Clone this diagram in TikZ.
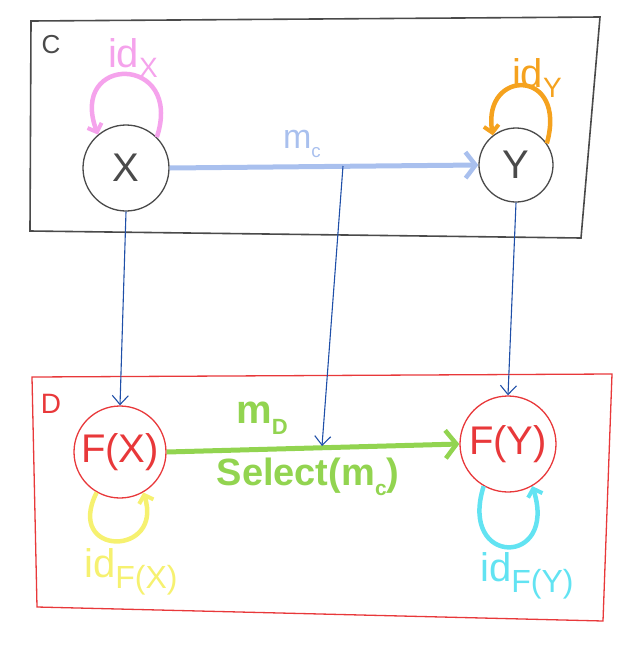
\documentclass[tikz,border=0pt]{standalone}
\usepackage{fontspec}
\setmainfont{Liberation Sans}
\usetikzlibrary{arrows.meta}
\definecolor{penblack}{HTML}{4A4A4A}
\definecolor{penred}{HTML}{E8383A}
\definecolor{penblue}{HTML}{1F4FA8}
\definecolor{lightblue}{HTML}{A9C0EE}
\definecolor{pengreen}{HTML}{92D450}
\definecolor{penpink}{HTML}{F5A3EC}
\definecolor{penorange}{HTML}{F5A21E}
\definecolor{penyellow}{HTML}{F6F170}
\definecolor{pencyan}{HTML}{62E3F2}
\newcommand{\lsub}[2][0.6]{\raisebox{-0.5ex}{\scalebox{#1}{#2}}}
\tikzset{
  cnode/.style={circle, inner sep=0pt, line width=1.3pt, font=\fontsize{40}{42}\selectfont},
  mapline/.style={draw=penblue, line width=1.1pt, -{Straight Barb[length=9pt,width=16pt,line width=1.1pt]}},
  loopline/.style={line width=4.5pt, -{Straight Barb[length=7pt,width=15pt,line width=4pt]}},
  biglbl/.style={font=\fontsize{40}{42}\selectfont, inner sep=0pt},
}
\begin{document}
\begin{tikzpicture}[x=1pt,y=-1pt]
\useasboundingbox (0,0) rectangle (640,654);
% category boxes
\draw[penblack, line width=1.6pt] (31,21) -- (600,17) -- (581,238) -- (30,231) -- cycle;
\draw[penred, line width=1.3pt] (32,377) -- (612,374) -- (603,621) -- (37,607) -- cycle;
\node[text=penblack, font=\fontsize{26}{28}\selectfont, inner sep=0pt] (lc) at (51,45) {C};
\node[text=penred, font=\fontsize{28}{30}\selectfont, inner sep=0pt] (ld) at (51,404) {D};
% objects
\node[cnode, draw=penblack, text=penblack, minimum size=86pt] (X) at (126,168) {X};
\node[cnode, draw=penblack, text=penblack, minimum size=74pt] (Y) at (516,165) {Y};
\node[cnode, draw=penred, text=penred, minimum size=92pt] (FX) at (120,452) {F(X)};
\node[cnode, draw=penred, text=penred, minimum size=96pt] (FY) at (508,444) {F(Y)};
% identity loops
\draw[loopline, penpink] (X.45) .. controls (184,54) and (68,54) .. (X.130);
\node[biglbl, text=penpink] (idx) at (133,58) {id\lsub[0.7]{X}};
\draw[loopline, penorange] (Y.35) .. controls (568,68) and (482,68) .. (Y.128);
\node[biglbl, text=penorange] (idy) at (537,78) {id\lsub[0.7]{Y}};
\draw[loopline, penyellow] (FX.240) .. controls (64,557) and (164,557) .. (FX.300);
\node[biglbl, text=penyellow, anchor=west] (idfx) at (84,572) {id\lsub[0.8]{F(X)}};
\draw[loopline, pencyan] (FY.240) .. controls (458,567) and (558,567) .. (FY.300);
\node[biglbl, text=pencyan, anchor=west] (idfy) at (480,576) {id\lsub[0.8]{F(Y)}};
% morphisms
\draw[lightblue, line width=5pt, -{Straight Barb[length=10pt,width=26pt,line width=4.5pt]}] (X.east) -- (Y.west);
\node[text=lightblue, font=\fontsize{34}{36}\selectfont, inner sep=0pt] (mc) at (302,144) {m\lsub[0.55]{c}};
\draw[pengreen, line width=5pt, -{Straight Barb[length=11pt,width=28pt,line width=4.5pt]}] (FX.east) -- (FY.west);
\node[text=pengreen, font=\bfseries\fontsize{40}{42}\selectfont, inner sep=0pt] (md) at (262,418) {m\lsub[0.55]{D}};
\node[text=pengreen, font=\bfseries\fontsize{38}{40}\selectfont, inner sep=0pt] (sel) at (308,477) {Select(m\lsub[0.55]{c})};
% functor action
\coordinate (mcmid) at (343,166);
\coordinate (mdmid) at (322,446);
\draw[mapline] (X.south) -- (FX.north);
\draw[mapline] (mcmid) -- (mdmid);
\draw[mapline] (Y.south) -- (FY.north);
\end{tikzpicture}
\end{document}
